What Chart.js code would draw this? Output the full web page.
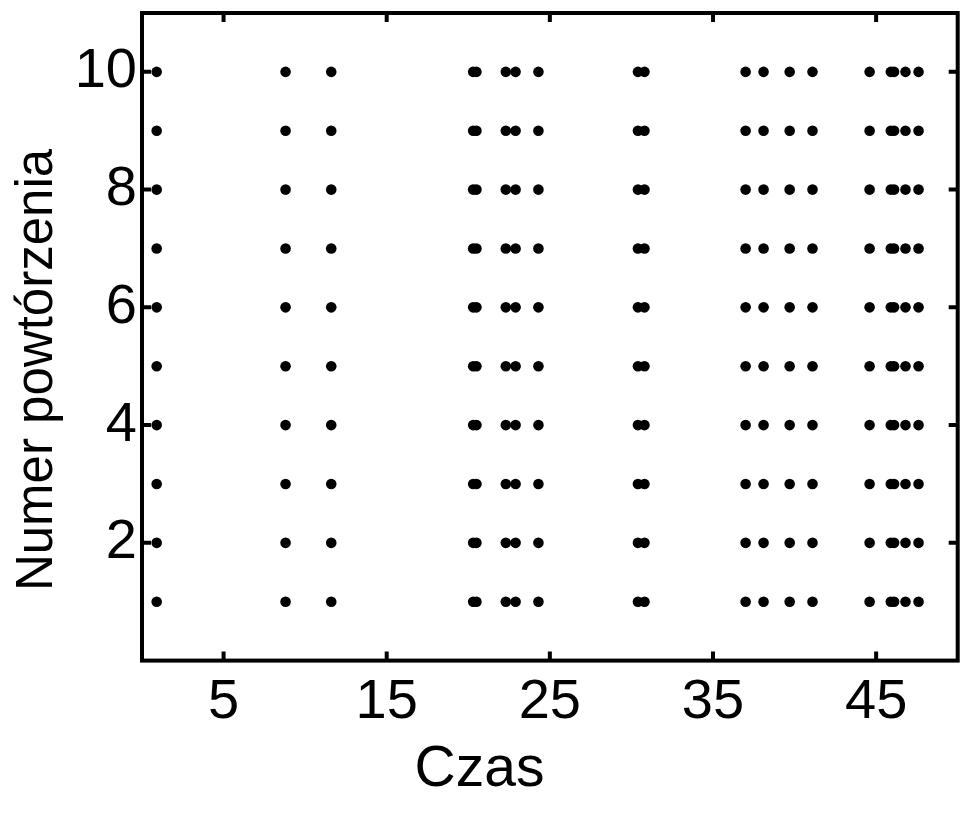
<!DOCTYPE html>
<html>
<head>
<meta charset="utf-8">
<script src="https://cdn.jsdelivr.net/npm/chart.js@4.4.1/dist/chart.umd.min.js"></script>
<style>
    body { margin: 0; background: #fff; }
    #wrap { width: 963px; height: 817px; }
</style>
</head>
<body>
<div id="wrap"><canvas id="myChart" width="963" height="817"></canvas></div>
<script>
// czasy zdarzen (te same w kazdym powtorzeniu)
const czasy = [0.9, 8.8, 11.6, 20.3, 20.5, 22.3, 22.9, 24.3, 30.4, 30.8,
    37.0, 38.1, 39.7, 41.1, 44.6, 45.9, 46.1, 46.8, 47.6];
const powtorzenia = [1, 2, 3, 4, 5, 6, 7, 8, 9, 10];
const xTicks = [5, 15, 25, 35, 45];
const yTicks = [2, 4, 6, 8, 10];

const points = [];
powtorzenia.forEach((nr) => {
    czasy.forEach((t) => {
        points.push({ x: t, y: nr });
    });
});

const font = 'Liberation Sans, Arial, sans-serif';

// ramka wokol wykresu + krotkie kreski do srodka (jak w matlabie)
const boxPlugin = {
    id: 'box',
    afterDraw(chart) {
        const { ctx, chartArea: a, scales } = chart;
        const len = 9;
        ctx.save();
        ctx.strokeStyle = '#000';
        ctx.lineWidth = 4;
        ctx.beginPath();
        scales.x.ticks.forEach((t) => {
            const px = scales.x.getPixelForValue(t.value);
            ctx.moveTo(px, a.bottom); ctx.lineTo(px, a.bottom - len);
            ctx.moveTo(px, a.top); ctx.lineTo(px, a.top + len);
        });
        scales.y.ticks.forEach((t) => {
            const py = scales.y.getPixelForValue(t.value);
            ctx.moveTo(a.left, py); ctx.lineTo(a.left + len, py);
            ctx.moveTo(a.right, py); ctx.lineTo(a.right - len, py);
        });
        ctx.stroke();
        ctx.strokeRect(a.left, a.top, a.right - a.left, a.bottom - a.top);

        // opis osi y - w oryginale jest troche nizej niz srodek osi
        ctx.translate(38, 370);
        ctx.rotate(-Math.PI / 2);
        ctx.fillStyle = '#000';
        ctx.font = '51px ' + font;
        ctx.textAlign = 'center';
        ctx.textBaseline = 'middle';
        ctx.fillText('Numer powtórzenia', 0, 0);
        ctx.restore();
    }
};

const config = {
    type: 'scatter',
    data: {
        datasets: [{
            label: 'Czas',
            data: points,
            backgroundColor: '#000',
            borderWidth: 0,
            pointRadius: 5.3
        }]
    },
    options: {
        responsive: false,
        animation: false,
        layout: { padding: { top: 13, right: 4, left: 0, bottom: 0 } },
        plugins: {
            legend: { display: false },
            tooltip: { enabled: false },
            title: {
                display: true,
                position: 'bottom',
                text: 'Czas',
                color: '#000',
                padding: { top: 0, bottom: 13 },
                font: { family: font, size: 57, weight: 'normal' }
            }
        },
        scales: {
            x: {
                type: 'linear',
                min: 0,
                max: 50,
                afterBuildTicks: (scale) => { scale.ticks = xTicks.map((v) => ({ value: v })); },
                afterFit: (scale) => {
                    scale.height = 75;
                    scale.paddingLeft = 0;
                    scale.paddingRight = 0;
                },
                grid: { display: false, drawTicks: false },
                border: { display: false },
                ticks: { autoSkip: false, maxRotation: 0, padding: 8, color: '#000', font: { family: font, size: 56 } }
            },
            y: {
                type: 'linear',
                min: 0,
                max: 11,
                afterBuildTicks: (scale) => { scale.ticks = yTicks.map((v) => ({ value: v })); },
                afterFit: (scale) => {
                    scale.width = 142;
                    scale.paddingTop = 0;
                    scale.paddingBottom = 0;
                },
                grid: { display: false, drawTicks: false },
                border: { display: false },
                ticks: { autoSkip: false, padding: 5, color: '#000', font: { family: font, size: 56 } }
            }
        }
    },
    plugins: [boxPlugin]
};

new Chart(document.getElementById('myChart'), config);
</script>
</body>
</html>
